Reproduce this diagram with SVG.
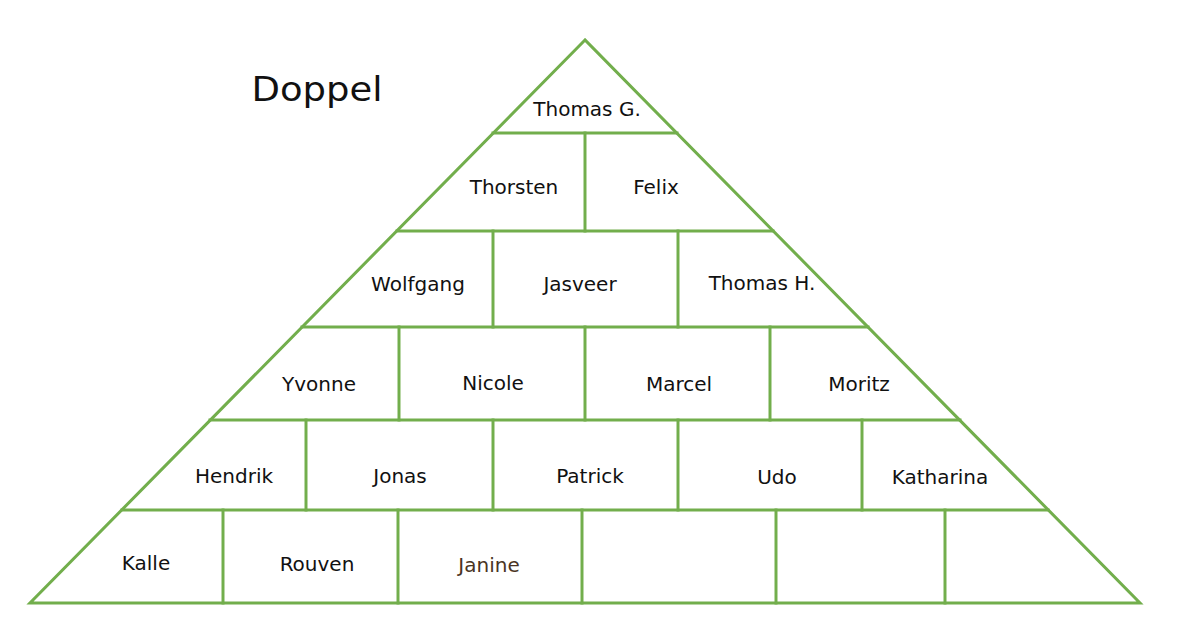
<svg xmlns="http://www.w3.org/2000/svg" width="1200" height="639" viewBox="0 0 1200 639">
<style>
.ln{stroke:#72ae4c;stroke-width:3;fill:none;stroke-linecap:square}
.t{font-family:"DejaVu Sans","Liberation Sans",sans-serif;font-size:20px;fill:#111;text-anchor:middle}
.title{font-family:"DejaVu Sans","Liberation Sans",sans-serif;font-size:34px;fill:#111;text-anchor:middle}
</style>
<rect width="1200" height="639" fill="#fff"/>
<g id="pyramid">
<polygon class="ln" points="585,40 30,603 1140,603"/>
<line class="ln" x1="493" y1="133" x2="677" y2="133"/>
<line class="ln" x1="397" y1="231" x2="773" y2="231"/>
<line class="ln" x1="302" y1="327" x2="868" y2="327"/>
<line class="ln" x1="210" y1="420" x2="960" y2="420"/>
<line class="ln" x1="122" y1="510" x2="1048" y2="510"/>
<line class="ln" x1="585" y1="133" x2="585" y2="231"/>
<line class="ln" x1="493" y1="231" x2="493" y2="327"/>
<line class="ln" x1="678" y1="231" x2="678" y2="327"/>
<line class="ln" x1="399" y1="327" x2="399" y2="420"/>
<line class="ln" x1="585" y1="327" x2="585" y2="420"/>
<line class="ln" x1="770" y1="327" x2="770" y2="420"/>
<line class="ln" x1="306" y1="420" x2="306" y2="510"/>
<line class="ln" x1="493" y1="420" x2="493" y2="510"/>
<line class="ln" x1="678" y1="420" x2="678" y2="510"/>
<line class="ln" x1="862" y1="420" x2="862" y2="510"/>
<line class="ln" x1="223" y1="510" x2="223" y2="603"/>
<line class="ln" x1="398" y1="510" x2="398" y2="603"/>
<line class="ln" x1="582" y1="510" x2="582" y2="603"/>
<line class="ln" x1="776" y1="510" x2="776" y2="603"/>
<line class="ln" x1="945" y1="510" x2="945" y2="603"/>
</g>
<g id="title"><text class="title" x="317" y="101" textLength="131" lengthAdjust="spacingAndGlyphs">Doppel</text></g>
<g id="n-thomas-g"><text class="t" x="587" y="116">Thomas G.</text></g>
<g id="n-thorsten"><text class="t" x="514" y="194">Thorsten</text></g>
<g id="n-felix"><text class="t" x="656" y="194">Felix</text></g>
<g id="n-wolfgang"><text class="t" x="418" y="291">Wolfgang</text></g>
<g id="n-jasveer"><text class="t" x="580" y="291">Jasveer</text></g>
<g id="n-thomas-h"><text class="t" x="762" y="290">Thomas H.</text></g>
<g id="n-yvonne"><text class="t" x="319" y="391">Yvonne</text></g>
<g id="n-nicole"><text class="t" x="493" y="390">Nicole</text></g>
<g id="n-marcel"><text class="t" x="679" y="391">Marcel</text></g>
<g id="n-moritz"><text class="t" x="859" y="391">Moritz</text></g>
<g id="n-hendrik"><text class="t" x="234" y="483">Hendrik</text></g>
<g id="n-jonas"><text class="t" x="400" y="483">Jonas</text></g>
<g id="n-patrick"><text class="t" x="590" y="483">Patrick</text></g>
<g id="n-udo"><text class="t" x="777" y="484">Udo</text></g>
<g id="n-katharina"><text class="t" x="940" y="484">Katharina</text></g>
<g id="n-kalle"><text class="t" x="146" y="570">Kalle</text></g>
<g id="n-rouven"><text class="t" x="317" y="571">Rouven</text></g>
<g id="n-janine"><text class="t" x="489" y="572" style="fill:#4a3424">Janine</text></g>
</svg>
